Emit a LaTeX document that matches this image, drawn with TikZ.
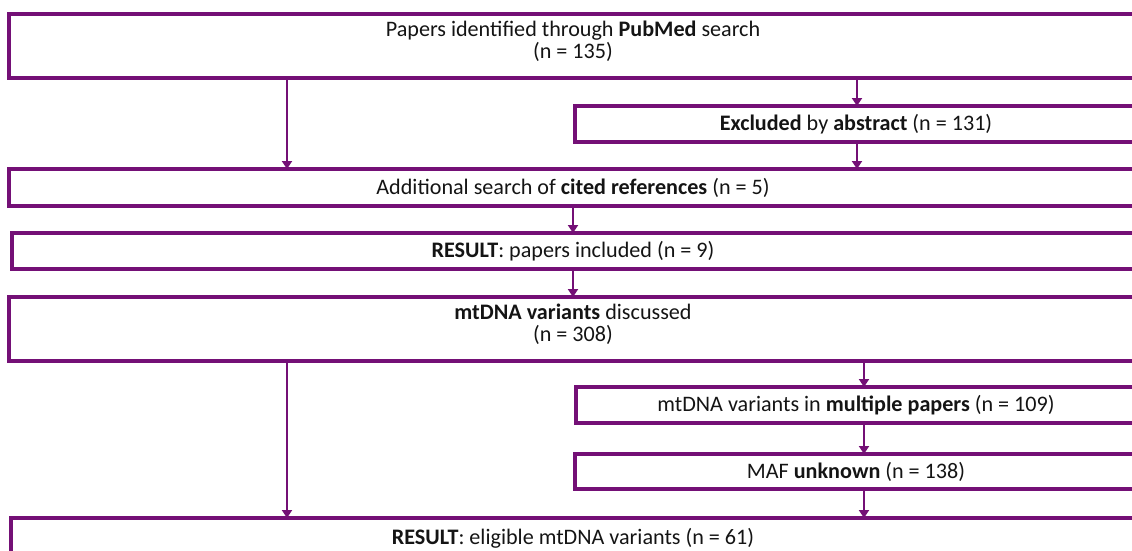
\documentclass[tikz,border=0pt]{standalone}
\usepackage{fontspec}
\setmainfont{Carlito}
\usetikzlibrary{arrows.meta}
\definecolor{pur}{RGB}{116,16,118}
\definecolor{txt}{RGB}{20,20,20}
\begin{document}
\begin{tikzpicture}[x=0.75pt,y=-0.75pt,
 box/.style={draw=pur,line width=2.6pt,rectangle,anchor=north west,inner sep=0pt,outer sep=0pt,align=center,font=\fontsize{16.6}{16.5}\selectfont,text=txt},
 twoline/.style={text depth=10pt},
 arr/.style={draw=pur,line width=1.8pt,-{Triangle[length=6pt,width=7.5pt]}}]
\useasboundingbox (0,0) rectangle (1132,550);
\clip (0,0) rectangle (1132,550);
\node[box,twoline,minimum width=846pt,minimum height=48pt] (b1) at (9,14) {Papers identified through \textbf{PubMed} search\\(n = 135)};
\node[box,minimum width=421.5pt,minimum height=27pt] (b2) at (575,106) {\textbf{Excluded} by \textbf{abstract} (n = 131)};
\node[box,minimum width=846pt,minimum height=27.75pt] (b3) at (9,169) {Additional search of \textbf{cited references} (n = 5)};
\node[box,minimum width=841.5pt,minimum height=27pt] (b4) at (12,233) {\textbf{RESULT}: papers included (n = 9)};
\node[box,twoline,minimum width=846pt,minimum height=48pt] (b5) at (9,297) {\textbf{mtDNA variants} discussed\\(n = 308)};
\node[box,minimum width=420pt,minimum height=27pt] (b6) at (576,387) {mtDNA variants in \textbf{multiple papers} (n = 109)};
\node[box,minimum width=421.5pt,minimum height=26.25pt] (b7) at (575,454) {MAF \textbf{unknown} (n = 138)};
\node[box,minimum width=843pt,minimum height=30pt] (b8) at (11,518) {\textbf{RESULT}: eligible mtDNA variants (n = 61)};
\coordinate (xL) at (287,0);
\coordinate (xM) at (573,0);
\coordinate (xR) at (857,0);
\coordinate (xS) at (864,0);
\draw[arr] (b1.south -| xL) -- (b3.north -| xL);
\draw[arr] (b1.south -| xR) -- (b2.north -| xR);
\draw[arr] (b2.south -| xR) -- (b3.north -| xR);
\draw[arr] (b3.south -| xM) -- (b4.north -| xM);
\draw[arr] (b4.south -| xM) -- (b5.north -| xM);
\draw[arr] (b5.south -| xL) -- (b8.north -| xL);
\draw[arr] (b5.south -| xS) -- (b6.north -| xS);
\draw[arr] (b6.south -| xS) -- (b7.north -| xS);
\draw[arr] (b7.south -| xS) -- (b8.north -| xS);
\end{tikzpicture}
\end{document}
